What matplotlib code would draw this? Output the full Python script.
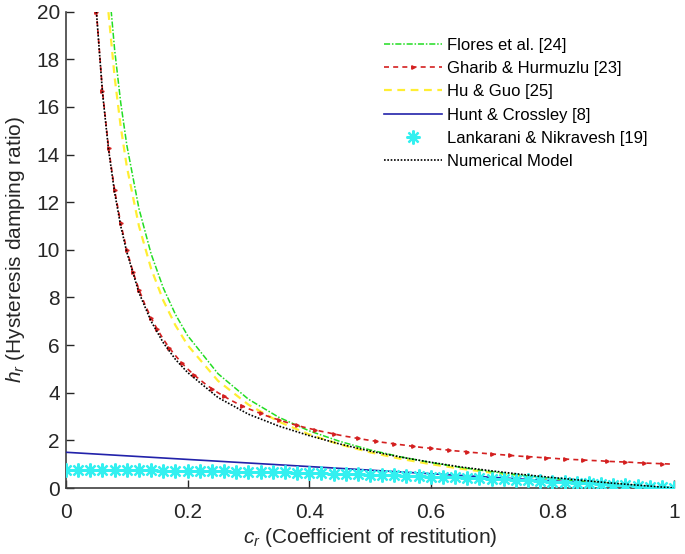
import numpy as np
import matplotlib
matplotlib.use("Agg")
import matplotlib.pyplot as plt

plt.rcParams['font.family'] = ['Liberation Sans', 'DejaVu Sans']
plt.rcParams['mathtext.fontset'] = 'custom'
plt.rcParams['mathtext.it'] = 'Liberation Sans:italic'
plt.rcParams['mathtext.rm'] = 'Liberation Sans'

# coarse grid of restitution values for the smooth curves
c_curve = [0.05, 0.06, 0.07, 0.08, 0.09, 0.10, 0.12, 0.14, 0.16, 0.18, 0.20,
           0.25, 0.30, 0.35, 0.40, 0.45, 0.50, 0.55, 0.60, 0.65, 0.70, 0.75,
           0.80, 0.85, 0.90, 0.95, 1.00]

flores = [22.0, 21.5, 21.26, 18.4, 16.18, 14.4, 11.73, 9.83, 8.4, 7.29, 6.4,
          4.8, 3.73, 2.97, 2.4, 1.96, 1.6, 1.31, 1.07, 0.86, 0.686, 0.533,
          0.4, 0.282, 0.178, 0.084, 0.0]

hu_guo = [22.0, 21.5, 19.93, 17.25, 15.17, 13.5, 11.0, 9.21, 7.875, 6.83, 6.0,
          4.5, 3.5, 2.786, 2.25, 1.833, 1.5, 1.227, 1.0, 0.808, 0.643, 0.5,
          0.375, 0.265, 0.167, 0.079, 0.0]

numerical = [20.0, 16.6, 14.2, 12.4, 11.0, 9.9, 8.2, 7.0, 6.1, 5.4, 4.85,
             3.8, 3.1, 2.6, 2.2, 1.85, 1.55, 1.3, 1.08, 0.88, 0.72, 0.57,
             0.44, 0.32, 0.2, 0.1, 0.0]

# fine grid for Gharib & Hurmuzlu (0.05 .. 1.00 step 0.01)
c_gharib = np.round(np.linspace(0.05, 1.0, 96), 2)
gharib = [20.00, 16.67, 14.29, 12.50, 11.11, 10.00, 9.09, 8.33, 7.69, 7.14,
          6.67, 6.25, 5.88, 5.56, 5.26, 5.00, 4.76, 4.55, 4.35, 4.17,
          4.00, 3.85, 3.70, 3.57, 3.45, 3.33, 3.23, 3.13, 3.03, 2.94,
          2.86, 2.78, 2.70, 2.63, 2.56, 2.50, 2.44, 2.38, 2.33, 2.27,
          2.22, 2.17, 2.13, 2.08, 2.04, 2.00, 1.96, 1.92, 1.89, 1.85,
          1.82, 1.79, 1.75, 1.72, 1.69, 1.67, 1.64, 1.61, 1.59, 1.56,
          1.54, 1.52, 1.49, 1.47, 1.45, 1.43, 1.41, 1.39, 1.37, 1.35,
          1.33, 1.32, 1.30, 1.28, 1.27, 1.25, 1.23, 1.22, 1.20, 1.19,
          1.18, 1.16, 1.15, 1.14, 1.12, 1.11, 1.10, 1.09, 1.08, 1.06,
          1.05, 1.04, 1.03, 1.02, 1.01, 1.00]

c_hunt = [0.0, 1.0]
hunt = [1.5, 0.0]

c_lank = np.round(np.linspace(0.0, 1.0, 51), 2)
lankarani = [0.750, 0.750, 0.749, 0.747, 0.745, 0.743, 0.739, 0.735, 0.731,
             0.726, 0.720, 0.714, 0.707, 0.699, 0.691, 0.683, 0.673, 0.663,
             0.653, 0.642, 0.630, 0.618, 0.605, 0.591, 0.577, 0.563, 0.547,
             0.531, 0.515, 0.498, 0.480, 0.462, 0.443, 0.423, 0.403, 0.383,
             0.361, 0.339, 0.317, 0.294, 0.270, 0.246, 0.221, 0.195, 0.169,
             0.143, 0.115, 0.087, 0.059, 0.030, 0.000]

labels = ["Flores et al. [24]", "Gharib & Hurmuzlu [23]", "Hu & Guo [25]",
          "Hunt & Crossley [8]", "Lankarani & Nikravesh [19]", "Numerical Model"]

fig = plt.figure(figsize=(6.85, 5.54), dpi=100)
ax = fig.add_axes([66/685, 1-488/554, (674-66)/685, (488-11.7)/554])

ax.plot(c_curve, flores, color='#22dd22', lw=1.1, dashes=(4, 1.2, 1, 1.2), label=labels[0], zorder=3)
ax.plot(c_gharib, gharib, color='#d42020', ls='--', lw=1.2, dashes=(3, 2.5), marker='>',
        markersize=2.5, markevery=0.025, label=labels[1], zorder=4)
ax.plot(c_curve, hu_guo, color='#ffee33', lw=1.6, dashes=(3.5, 2.5), label=labels[2], zorder=2)
ax.plot(c_hunt, hunt, color='#2222aa', ls='-', lw=1.2, label=labels[3], zorder=3)
ax.plot(c_lank, lankarani, color='#33f0f0', ls='none', marker=(8, 2, 0), markersize=10,
        markeredgewidth=1.6, label=labels[4], zorder=5)
ax.plot(c_curve, numerical, color='black', ls=(0, (1, 1)), lw=1.2, label=labels[5], zorder=6)

ax.set_xlim(0, 1)
ax.set_ylim(0, 20)
ax.set_xticks([0, 0.2, 0.4, 0.6, 0.8, 1])
ax.set_xticklabels(['0', '0.2', '0.4', '0.6', '0.8', '1'])
ax.set_yticks(range(0, 21, 2))
ax.tick_params(direction='in', length=6, width=1, labelsize=15, colors='#262626')
ax.tick_params(axis='x', pad=10.5)
ax.tick_params(axis='y', pad=4.5)
for s in ['top', 'right']:
    ax.spines[s].set_visible(False)
for s in ['left', 'bottom']:
    ax.spines[s].set_color('#404040')
    ax.spines[s].set_linewidth(1.2)

ax.set_xlabel(r'$c_r$ (Coefficient of restitution)', fontsize=15, color='#262626', labelpad=3)
ax.set_ylabel(r'$h_r$ (Hysteresis damping ratio)', fontsize=15, color='#262626', labelpad=7)

leg = ax.legend(loc='upper left', bbox_to_anchor=(0.4976, 0.977), frameon=False,
                fontsize=12, handlelength=3.5, labelspacing=0.5, handletextpad=0.3)

fig.savefig('out.png', dpi=100)
